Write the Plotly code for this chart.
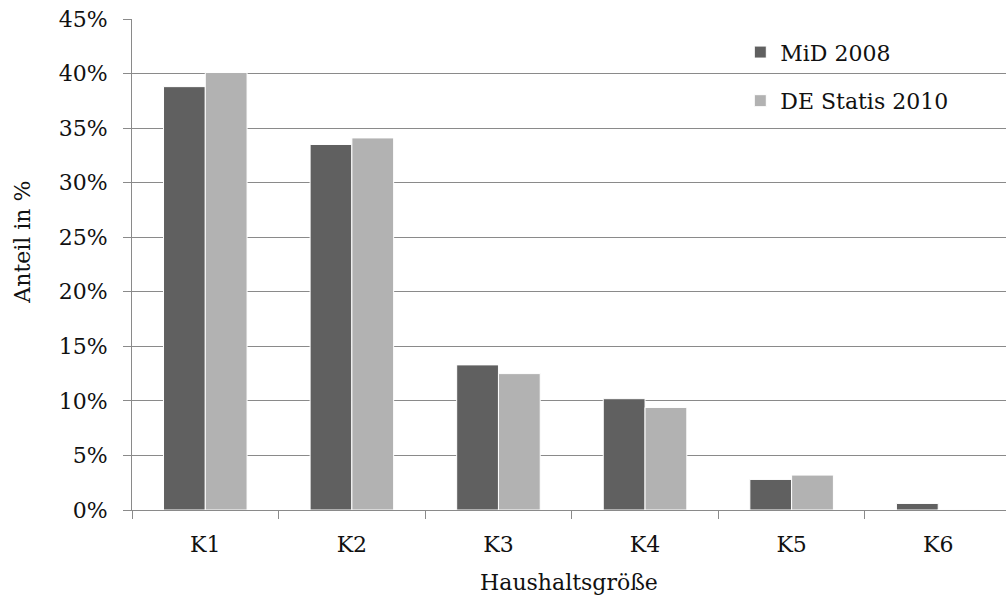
import plotly.graph_objects as go

categories = ["K1", "K2", "K3", "K4", "K5", "K6"]
mid_2008 = [38.8, 33.5, 13.3, 10.2, 2.8, 0.6]
destatis_2010 = [40.1, 34.1, 12.5, 9.4, 3.2, 0.05]
series_names = ["MiD 2008", "DE Statis 2010"]
series_colors = ["#606060", "#b2b2b2"]
y_ticks = [0, 5, 10, 15, 20, 25, 30, 35, 40, 45]
y_ticklabels = [f"{v}%" for v in y_ticks]

FONT = "DejaVu Serif"
FS = 22
GRID = "#8a8a8a"

fig = go.Figure()
for i, (name, vals, col) in enumerate(zip(series_names, [mid_2008, destatis_2010], series_colors)):
    fig.add_trace(go.Bar(
        x=categories, y=vals, name=name, legendgroup=f"g{i}",
        marker=dict(color=col, line=dict(color="white", width=1)),
    ))

fig.update_layout(
    width=1006, height=599,
    margin=dict(l=132, r=0, t=19, b=89),
    paper_bgcolor="white", plot_bgcolor="white",
    font=dict(family=FONT, size=FS, color="#111111"),
    barmode="group", bargap=0.43, bargroupgap=0.0,
    showlegend=True,
    legend=dict(x=0.696, y=0.975, xanchor="left", yanchor="top",
                bgcolor="rgba(0,0,0,0)", font=dict(family=FONT, size=FS),
                traceorder="grouped", tracegroupgap=17, itemwidth=30),
    annotations=[dict(text="Anteil in %", textangle=-90, xref="paper", yref="paper",
                      x=-0.125, y=0.546, xanchor="center", yanchor="middle",
                      showarrow=False, font=dict(family=FONT, size=FS))],
)
fig.update_xaxes(
    type="category", range=[-0.5, 5.4625],
    showline=True, linecolor=GRID, linewidth=1,
    ticks="outside", tickson="boundaries", ticklen=8, tickcolor=GRID, tickwidth=1,
    ticklabelstandoff=15,
    showgrid=False,
    title=dict(text="Haushaltsgröße", standoff=18, font=dict(family=FONT, size=FS)),
)
fig.update_yaxes(
    range=[0, 45], tickvals=y_ticks, ticktext=y_ticklabels,
    showline=True, linecolor=GRID, linewidth=1,
    ticks="outside", ticklen=8, tickcolor=GRID, tickwidth=1,
    showgrid=True, gridcolor=GRID, gridwidth=1,
    ticklabelstandoff=11, zeroline=False,
)

fig.write_html("out.html", config={"displayModeBar": False},
               post_script="document.body.style.margin='0';")
